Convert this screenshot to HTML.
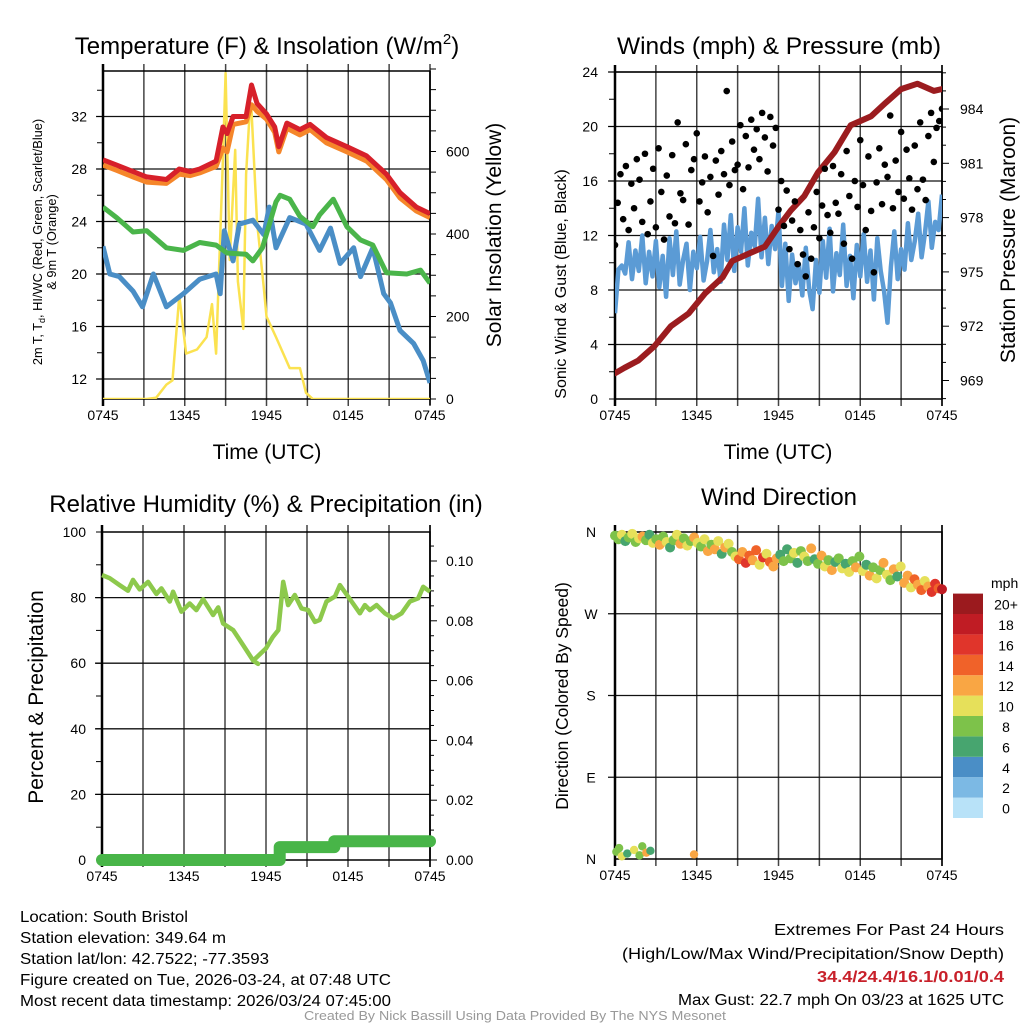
<!DOCTYPE html>
<html><head><meta charset="utf-8"><style>
html,body{margin:0;padding:0;background:#fff;}
svg{display:block;font-family:"Liberation Sans",Arial,sans-serif;}
</style></head><body>
<svg id="chart" width="1024" height="1024" viewBox="0 0 1024 1024" xmlns="http://www.w3.org/2000/svg">
<defs>
<clipPath id="c1"><rect x="103" y="71" width="327" height="328"/></clipPath>
<clipPath id="c2"><rect x="615" y="72" width="327" height="327"/></clipPath>
<clipPath id="c3"><rect x="96" y="526" width="340" height="340"/></clipPath>
<clipPath id="c4"><rect x="609" y="526" width="340" height="340"/></clipPath>
</defs>
<g id="p1"></g>
<g id="p2"></g>
<g id="p3"></g>
<g id="p4"></g>

<text x="267" y="54" font-size="24" text-anchor="middle">Temperature (F) &amp; Insolation (W/m<tspan font-size="15" dy="-10">2</tspan><tspan dy="10">)</tspan></text>
<text x="779" y="54" font-size="24.5" text-anchor="middle">Winds (mph) &amp; Pressure (mb)</text>
<text x="266" y="512" font-size="24" text-anchor="middle">Relative Humidity (%) &amp; Precipitation (in)</text>
<text x="779" y="505" font-size="24" text-anchor="middle">Wind Direction</text>

<text x="267" y="459" font-size="21" text-anchor="middle">Time (UTC)</text>
<text x="778" y="459" font-size="21" text-anchor="middle">Time (UTC)</text>

<text font-size="12.8" text-anchor="middle" transform="translate(42,242) rotate(-90)">2m T, T<tspan font-size="9" dy="3">d</tspan><tspan dy="-3">, HI/WC (Red, Green, Scarlet/Blue)</tspan></text>
<text font-size="12.8" text-anchor="middle" transform="translate(56,242) rotate(-90)">&amp; 9m T (Orange)</text>
<text font-size="21" text-anchor="middle" transform="translate(501,235) rotate(-90)">Solar Insolation (Yellow)</text>
<text font-size="16" text-anchor="middle" transform="translate(566,284) rotate(-90)">Sonic Wind &amp; Gust (Blue, Black)</text>
<text font-size="21" text-anchor="middle" transform="translate(1015,240) rotate(-90)">Station Pressure (Maroon)</text>
<text font-size="21" text-anchor="middle" transform="translate(43,697) rotate(-90)">Percent &amp; Precipitation</text>
<text font-size="17.5" text-anchor="middle" transform="translate(568,696) rotate(-90)">Direction (Colored By Speed)</text>

<g font-size="15.5">
<text x="20" y="922" textLength="168" lengthAdjust="spacingAndGlyphs">Location: South Bristol</text>
<text x="20" y="943" textLength="206" lengthAdjust="spacingAndGlyphs">Station elevation: 349.64 m</text>
<text x="20" y="964" textLength="249" lengthAdjust="spacingAndGlyphs">Station lat/lon: 42.7522; -77.3593</text>
<text x="20" y="985" textLength="371" lengthAdjust="spacingAndGlyphs">Figure created on Tue, 2026-03-24, at 07:48 UTC</text>
<text x="20" y="1006" textLength="371" lengthAdjust="spacingAndGlyphs">Most recent data timestamp: 2026/03/24 07:45:00</text>
</g>
<g font-size="15.5" text-anchor="end">
<text x="1004" y="935" textLength="230" lengthAdjust="spacingAndGlyphs">Extremes For Past 24 Hours</text>
<text x="1004" y="959" textLength="382" lengthAdjust="spacingAndGlyphs">(High/Low/Max Wind/Precipitation/Snow Depth)</text>
<text x="1004" y="982" textLength="187" lengthAdjust="spacingAndGlyphs" fill="#c8202a" font-weight="bold">34.4/24.4/16.1/0.01/0.4</text>
<text x="1004" y="1005" textLength="326" lengthAdjust="spacingAndGlyphs">Max Gust: 22.7 mph On 03/23 at 1625 UTC</text>
</g>
<text x="515" y="1020" font-size="12.5" fill="#999" text-anchor="middle" textLength="422" lengthAdjust="spacingAndGlyphs">Created By Nick Bassill Using Data Provided By The NYS Mesonet</text>
</svg>
<script>
// ---------- data ----------
const xTickLabels = ["0745","1345","1945","0145","0745"];
const redHours = [0,1,2.2,3.2,4.65,5.6,6.4,7.1,8.3,8.8,9.1,9.55,10.5,10.9,11.3,12,12.6,12.9,13.5,14.45,15.2,16.4,17.9,19.35,20.8,21.8,23,24];
const redVals  = [28.7,28.3,27.8,27.4,27.2,28.0,27.8,28.0,28.6,31.2,30.7,32.0,32.0,34.4,33.0,32.2,31.2,29.7,31.5,31.0,31.4,30.4,29.7,29.0,27.6,26.2,25.1,24.6];
const orangeVals=[28.3,27.9,27.4,27.0,26.9,27.6,27.5,27.7,28.2,29.6,29.3,31.4,31.6,32.9,32.4,31.8,30.8,29.3,31.1,30.6,31.0,30.0,29.3,28.6,27.2,25.8,24.8,24.3];
const greenHours=[0,1,2.2,3.2,4.65,5.9,7.1,8.3,9.1,10.5,11.0,11.7,12.7,13.0,13.7,14.45,15.4,15.9,16.9,17.9,18.9,19.8,20.8,22.3,23.3,24];
const greenVals =[25.1,24.3,23.2,23.3,22.0,21.8,22.4,22.2,21.6,21.5,21.0,22.0,25.5,26.0,25.7,24.4,23.6,24.5,25.7,23.6,22.6,22.2,20.1,20.0,20.3,19.3];
const blueHours=[0,0.5,1.2,2.2,2.9,3.7,4.65,5.9,7.1,8.3,8.6,8.9,9.55,10.0,11.0,11.8,12.2,12.7,13.7,14.9,15.9,16.7,17.4,18.4,18.9,19.8,20.6,21.1,21.8,22.8,23.5,24];
const blueVals =[22.1,20.0,19.8,18.7,17.5,20.0,17.5,18.5,19.6,20.0,18.5,23.3,21.0,23.8,24.1,23.0,25.1,22.0,24.3,23.8,21.8,23.5,20.8,22.0,19.8,22.0,18.5,17.8,15.7,14.7,13.4,11.7];
const solarHours=[0,3.2,3.9,4.65,5.1,5.6,6.1,6.9,7.6,8.0,8.3,8.8,9.0,9.3,9.7,9.9,10.3,10.5,10.8,10.9,11.3,11.8,12.0,12.7,13.7,14.45,14.9,15.4,24];
const solarVals =[0,0,3,35,45,250,110,120,150,230,110,580,790,337,604,285,170,545,717,700,430,270,200,150,75,75,15,0,0];
const windSpd=[6.3,9.5,9.8,9.2,11.5,8.8,10.9,9.4,12.0,8.5,10.8,9.0,11.6,8.2,10.5,7.5,11.8,9.1,12.3,8.4,10.2,11.4,8.0,10.8,9.6,11.9,8.7,10.1,12.4,9.3,11.0,8.6,12.8,10.2,13.5,9.4,12.6,10.8,14.0,9.8,12.2,11.2,14.7,10.4,13.3,9.9,12.7,11.0,13.8,8.3,11.4,7.2,10.6,8.5,9.9,7.6,11.1,8.0,6.6,10.2,7.8,11.6,8.9,12.5,7.9,10.7,9.1,12.8,8.3,10.5,7.4,11.3,9.0,12.1,8.6,10.9,7.3,11.8,9.4,7.9,5.6,9.7,12.3,8.8,11.0,9.5,12.9,10.2,11.6,13.6,10.4,12.2,14.5,11.1,13.0,12.4,15.0];
const gustVals=[11.3,14.4,16.5,13.2,17.1,12.4,15.8,14.0,17.6,16.1,13.0,18.0,12.1,14.5,16.9,12.6,18.4,15.2,11.7,16.4,13.4,17.9,12.9,20.3,15.1,14.6,18.7,12.8,16.8,17.6,19.5,14.5,15.9,17.8,13.7,16.3,10.5,17.5,15.0,18.2,16.5,22.6,15.7,18.9,16.8,17.2,20.1,15.4,19.3,17.0,20.5,18.3,19.8,17.6,21.0,19.2,16.7,20.7,18.6,19.9,13.9,16.0,12.7,15.3,11.0,13.1,14.5,9.9,12.4,10.6,9.0,13.7,10.3,12.6,15.2,11.8,14.2,16.9,13.5,12.2,17.1,14.4,13.6,16.5,11.4,18.2,14.9,10.3,16.0,14.1,19.0,15.7,12.4,17.8,13.8,9.3,15.9,18.4,14.3,17.2,16.3,20.8,14.0,17.5,15.2,19.6,14.7,18.3,16.2,13.9,18.6,15.4,20.3,16.1,14.6,19.3,21.0,17.4,19.9,20.4,21.3];
const presHours=[0,0.7,1.7,2.9,4.1,5.4,6.6,7.9,8.6,9.8,11.0,12.0,12.9,13.9,14.9,16.1,17.3,18.8,19.8,21.0,22.2,23.4,24];
const presVals =[969.4,969.7,970.1,970.9,972.0,972.7,973.8,974.7,975.6,976.0,976.4,977.5,978.4,979.2,980.5,981.6,983.1,983.6,984.3,985.1,985.4,985.0,985.1];
const rhHours=[0,0.56,1.29,1.9,2.27,2.76,3.37,3.98,4.35,4.96,5.2,5.81,6.42,6.91,7.4,8.13,8.5,8.86,9.6,10.33,11.06,11.42,11.06,12.0,12.5,12.9,13.26,13.62,14.11,14.6,15.09,15.58,15.94,16.43,17.04,17.41,18.26,18.87,19.24,19.6,20.09,20.7,21.31,21.92,22.53,23.14,23.5,24];
const rhVals =[86.9,85.9,83.8,82.1,85.4,82.5,84.8,81.1,82.8,78.8,81.8,75.7,78.2,76.2,79.5,74.7,77.0,72.1,70.1,65.5,60.8,59.8,60.8,64.5,68.0,70.1,84.8,77.7,80.8,76.7,76.2,72.6,73.2,78.8,80.3,83.8,78.8,75.2,77.7,76.2,77.7,75.2,73.7,75.2,78.8,79.8,83.3,81.8];
const precipHours=[0,13.0,13.0,17.0,17.0,24];
const precipVals =[0,0,0.0043,0.0043,0.0063,0.0063];
const dirVals=[356,352,357,350,354,358,349,353,355,351,357,348,352,346,355,349,343,351,357,347,353,345,350,354,348,344,352,339,346,341,350,336,343,347,338,333,330,338,326,334,329,340,324,332,336,327,322,331,335,328,341,331,337,326,339,333,328,342,330,325,334,322,329,318,327,331,320,325,316,328,321,333,317,324,312,321,309,318,326,313,307,319,311,322,304,312,299,308,302,296,306,300,294,303,298,297];
const dirSpeeds=[8,9,10,7,8,11,9,10,12,8,7,11,9,12,8,10,7,9,11,13,8,10,9,12,10,8,11,12,9,13,10,7,12,11,9,10,15,13,16,14,12,15,11,16,10,14,13,12,7,9,6,8,11,7,9,10,8,12,7,9,13,10,8,12,6,9,11,7,10,8,12,9,10,7,13,9,11,8,12,10,9,13,7,11,12,13,10,14,12,15,11,13,16,17,14,18];
const wrapHours=[0.1,0.3,0.5,0.9,1.4,1.8,2.0,2.3,2.6,5.8];
const wrapDirs =[8,12,3,6,10,4,14,7,9,5];
const wrapSpeeds=[8,9,10,6,11,9,8,12,7,13];
const speedColors=["#b8e2f8","#7cb9e4","#4a8ec6","#47a56f","#7dc24a","#e6e05a","#f9a644","#f06229","#e0352b","#c01c24","#9b1a1e"];
const speedLabels=["0","2","4","6","8","10","12","14","16","18","20+"];

// ---------- helpers ----------
const NS="http://www.w3.org/2000/svg";
function mk(parent,tag,attrs){const e=document.createElementNS(NS,tag);for(const k in attrs)e.setAttribute(k,attrs[k]);parent.appendChild(e);return e;}
function txt(parent,x,y,s,size,anchor){const t=mk(parent,"text",{x:x,y:y,"font-size":size,"text-anchor":anchor});t.textContent=s;return t;}
function path(xs,ys,fx,fy){return xs.map((v,i)=>(i?"L":"M")+fx(v).toFixed(1)+","+fy(ys[i]).toFixed(1)).join("");}
function frame(g,L,R,T,B,yGridVals,fy){
  for(let i=0;i<=8;i++){const x=L+(R-L)*i/8;
    const l=mk(g,"line",{x1:x,x2:x,y1:T-7,y2:B+7,stroke:"#444","stroke-width":1.5});
    
    }
  yGridVals.forEach(v=>{const y=fy(v);
    const l=mk(g,"line",{x1:L-7,x2:R,y1:y,y2:y,stroke:"#111","stroke-width":1.3});
    
    });
  const b=mk(g,"rect",{x:L,y:T,width:R-L,height:B-T,fill:"none",stroke:"#000","stroke-width":1.5});
  
  
  mk(g,"line",{x1:L,x2:L,y1:T-7,y2:B+7,stroke:"#000","stroke-width":2.5});
  xTickLabels.forEach((s,i)=>{const t=txt(g,L+(R-L)*i/4,B+21,s,14,"middle");
    
    });
}
function hx(L,R){return h=>L+h*(R-L)/24;}

// ---------- panel 1 ----------
(function(){
  const g=document.getElementById("p1");const L=103,R=430,T=71,B=399;
  const fx=hx(L,R), fy=v=>379-(v-12)*13.125, fs=w=>399-w*0.4125;
  frame(g,L,R,T,B,[12,16,20,24,28,32],fy);
  for(let v=12;v<=34;v+=2){mk(g,"line",{x1:L-6,x2:L,y1:fy(v),y2:fy(v),stroke:"#000"});}
  [12,16,20,24,28,32].forEach(v=>{const t=txt(g,87,fy(v)+5,String(v),14,"end");
    
    });
  mk(g,"line",{x1:R,x2:R,y1:T,y2:B+6,stroke:"#000","stroke-width":1.5});
  for(let w=0;w<=800;w+=50){mk(g,"line",{x1:R,x2:R+6,y1:fs(w),y2:fs(w),stroke:"#000"});}
  [0,200,400,600].forEach(w=>{const t=txt(g,446,fs(w)+5,String(w),14,"start");
    
    });
  const c=mk(g,"g",{"clip-path":"url(#c1)"});
  const s1=mk(c,"path",{d:path(solarHours,solarVals,fx,fs),fill:"none",stroke:"#fbe250","stroke-width":2.5,"stroke-linejoin":"round"});
  
  
  const s2=mk(c,"path",{d:path(blueHours,blueVals,fx,fy),fill:"none",stroke:"#4a8ec6","stroke-width":5,"stroke-linejoin":"round"});
  
  
  const s3=mk(c,"path",{d:path(greenHours,greenVals,fx,fy),fill:"none",stroke:"#4ab54a","stroke-width":5,"stroke-linejoin":"round"});
  
  
  const s4=mk(c,"path",{d:path(redHours,orangeVals,fx,fy),fill:"none",stroke:"#f5862a","stroke-width":5,"stroke-linejoin":"round"});
  
  
  const s5=mk(c,"path",{d:path(redHours,redVals,fx,fy),fill:"none",stroke:"#d7202a","stroke-width":5,"stroke-linejoin":"round"});
  
  
})();

// ---------- panel 2 ----------
(function(){
  const g=document.getElementById("p2");const L=615,R=942,T=72,B=399;
  const fx=hx(L,R), fy=v=>399-v*13.625, fp=mb=>109+(984-mb)*18.1;
  frame(g,L,R,T,B,[4,8,12,16,20,24],fy);
  for(let v=0;v<=24;v+=2){mk(g,"line",{x1:L-6,x2:L,y1:fy(v),y2:fy(v),stroke:"#000"});}
  [0,4,8,12,16,20,24].forEach(v=>{const t=txt(g,598,fy(v)+5,String(v),14,"end");
    
    });
  mk(g,"line",{x1:R,x2:R,y1:T-7,y2:B+7,stroke:"#000","stroke-width":1.5});
  for(let m=968;m<=986;m++){mk(g,"line",{x1:R,x2:R+(m%3==0?7:4),y1:fp(m),y2:fp(m),stroke:"#000"});}
  [969,972,975,978,981,984].forEach(m=>{const t=txt(g,960,fp(m)+5,String(m),14,"start");
    
    });
  const c=mk(g,"g",{"clip-path":"url(#c2)"});
  const wh=windSpd.map((v,i)=>i*24/(windSpd.length-1));
  const w=mk(c,"path",{d:path(wh,windSpd,fx,fy),fill:"none",stroke:"#5b9bd5","stroke-width":4.5,"stroke-linejoin":"round"});
  
  
  const pr=mk(c,"path",{d:path(presHours,presVals,fx,fp),fill:"none",stroke:"#9b1c1f","stroke-width":6,"stroke-linejoin":"round","stroke-linecap":"round"});
  
  
  gustVals.forEach((v,i)=>{const h=i*24/(gustVals.length-1);
    const d=mk(c,"circle",{cx:fx(h),cy:fy(v),r:3.3,fill:"#000"});
    
    });
})();

// ---------- panel 3 ----------
(function(){
  const g=document.getElementById("p3");const L=102,R=430,T=532,B=860;
  const fx=hx(L,R), fy=v=>860-v*3.28, fq=p=>860-p*2990;
  frame(g,L,R,T,B,[20,40,60,80],fy);
  for(let v=0;v<=100;v+=10){mk(g,"line",{x1:L-6,x2:L,y1:fy(v),y2:fy(v),stroke:"#000"});}
  [0,20,40,60,80,100].forEach(v=>{const t=txt(g,86,fy(v)+5,String(v),14,"end");
    
    });
  mk(g,"line",{x1:R,x2:R,y1:T-7,y2:B+7,stroke:"#000","stroke-width":1.5});
  for(let k=0;k<=21;k++){const p=k*0.005;mk(g,"line",{x1:R,x2:R+(k%4==0?7:4),y1:fq(p),y2:fq(p),stroke:"#000"});}
  ["0.00","0.02","0.04","0.06","0.08","0.10"].forEach(s=>{const t=txt(g,446,fq(parseFloat(s))+5,s,14,"start");
    
    });
  const c=mk(g,"g",{"clip-path":"url(#c3)"});
  const rh=mk(c,"path",{d:path(rhHours,rhVals,fx,fy),fill:"none",stroke:"#8dc94c","stroke-width":4.5,"stroke-linejoin":"round"});
  
  
  const pp=mk(c,"path",{d:path(precipHours,precipVals,fx,fq),fill:"none",stroke:"#48b548","stroke-width":12,"stroke-linejoin":"round","stroke-linecap":"round"});
  
  
})();

// ---------- panel 4 ----------
(function(){
  const g=document.getElementById("p4");const L=615,R=942,T=532,B=859;
  const fx=hx(L,R), fy=d=>859-d*(327/360);
  frame(g,L,R,T,B,[90,180,270],fy);
  mk(g,"line",{x1:R,x2:R,y1:T-7,y2:B+7,stroke:"#000","stroke-width":1.5});
  [["N",360],["W",270],["S",180],["E",90],["N",0]].forEach(a=>{const t=txt(g,591,fy(a[1])+5,a[0],14,"middle");
    
    });
  const c=mk(g,"g",{"clip-path":"url(#c4)"});
  const col=s=>speedColors[Math.min(10,Math.floor(s/2))];
  dirVals.forEach((d,i)=>{const h=i*24/(dirVals.length-1);
    const p=mk(c,"circle",{cx:fx(h),cy:fy(d),r:5,fill:col(dirSpeeds[i])});
    
    });
  wrapHours.forEach((h,i)=>{
    const p=mk(c,"circle",{cx:fx(h),cy:fy(wrapDirs[i]),r:4.2,fill:col(wrapSpeeds[i])});
    
    });
  const lg=mk(g,"g",{});
  
  
  txt(lg,991,588,"mph",14,"start");
  speedColors.forEach((cc,i)=>{const y=818-(i+1)*20.4;
    const r=mk(lg,"rect",{x:953,y:y,width:30,height:20.4,fill:cc});
    
    
    const t=txt(lg,1006,y+16,speedLabels[i],14,"middle");
    
    });
})();
</script>
</body></html>
